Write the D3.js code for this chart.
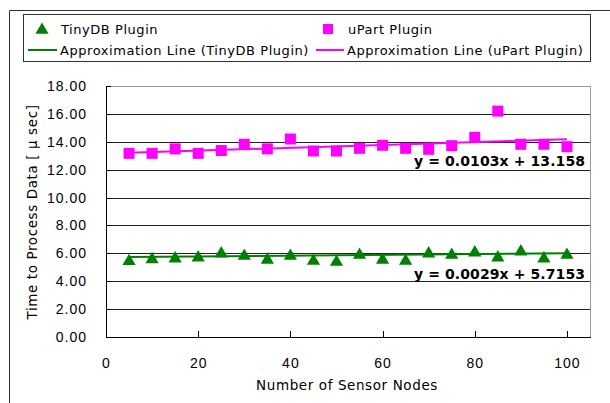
<!DOCTYPE html>
<html>
<meta charset="utf-8">
<title>Processing time</title>
<style>
  body { margin: 0; background: #fff; }
  svg { font-family: "DejaVu Sans", sans-serif; }
  .grid line { stroke: #222; stroke-width: 1; shape-rendering: crispEdges; }
  .axis text { font-size: 14px; fill: #000; letter-spacing: 1px; }
  .lg text { font-size: 13px; fill: #000; letter-spacing: 0.55px; }
  .eq { font-size: 14px; font-weight: bold; fill: #000; }
  .title { font-size: 13.5px; letter-spacing: 0.6px; }
</style>
<body>
<div id="chart"></div>
<script src="https://d3js.org/d3.v7.min.js"></script>
<script>
// data
var nodes = [5, 10, 15, 20, 25, 30, 35, 40, 45, 50, 55, 60, 65, 70, 75, 80, 85, 90, 95, 100];
var tinydb = [5.50, 5.64, 5.69, 5.76, 6.05, 5.88, 5.60, 5.88, 5.52, 5.45,
              5.95, 5.60, 5.52, 6.05, 5.95, 6.12, 5.76, 6.19, 5.69, 5.95];
var upart = [13.17, 13.17, 13.49, 13.17, 13.37, 13.82, 13.49, 14.20, 13.34, 13.34,
             13.53, 13.75, 13.53, 13.46, 13.72, 14.32, 16.20, 13.82, 13.82, 13.65];
var fitTiny = {slope: 0.0029, icpt: 5.7153, label: "y = 0.0029x + 5.7153"};
var fitUpart = {slope: 0.0103, icpt: 13.158, label: "y = 0.0103x + 13.158"};
var yTicks = [0, 2, 4, 6, 8, 10, 12, 14, 16, 18];
var xTicks = [0, 20, 40, 60, 80, 100];

var W = 610, H = 403;
var green = "#008000", pink = "#ff00ff";

var svg = d3.select("#chart").append("svg")
    .attr("width", W).attr("height", H);

// outer frame (only top and left visible)
svg.append("path")
    .attr("d", "M9.5,403V10.5H610")
    .attr("fill", "none").attr("stroke", "#333").attr("stroke-width", 1);

var x = d3.scaleLinear().domain([0, 105]).range([106, 590]);
var y = d3.scaleLinear().domain([0, 18]).range([337, 86]);

// gridlines
svg.append("g").attr("class", "grid")
  .selectAll("line").data(yTicks.slice(1)).enter().append("line")
    .attr("x1", x(0)).attr("x2", x(105))
    .attr("y1", function(d) { return Math.round(y(d)) + 0.5; })
    .attr("y2", function(d) { return Math.round(y(d)) + 0.5; })
    .style("stroke", function(d) { return d == 18 ? "#999" : "#222"; });

// right border
svg.append("line")
    .attr("x1", x(105) + 0.5).attr("x2", x(105) + 0.5)
    .attr("y1", y(18)).attr("y2", y(0))
    .attr("stroke", "#999").attr("shape-rendering", "crispEdges");

// axes
var yAxis = d3.axisLeft(y).tickValues(yTicks).tickFormat(d3.format(".2f")).tickSizeInner(-5).tickSizeOuter(0).tickPadding(19);
var xAxis = d3.axisBottom(x).tickValues(xTicks).tickFormat(d3.format("d")).tickSizeInner(-6).tickSizeOuter(0).tickPadding(20);

var gy = svg.append("g").attr("class", "axis").attr("transform", "translate(" + x(0) + ",0)").call(yAxis);
var gx = svg.append("g").attr("class", "axis").attr("transform", "translate(0," + y(0) + ")").call(xAxis);
svg.selectAll(".axis path, .axis line").attr("stroke", "#000").attr("shape-rendering", "crispEdges");
gx.selectAll("text").attr("dy", "0.35em").attr("y", 26);

// axis titles
svg.append("text").attr("class", "title")
    .attr("x", 347).attr("y", 390)
    .attr("text-anchor", "middle")
    .text("Number of Sensor Nodes");

svg.append("text").attr("class", "title")
    .attr("transform", "translate(37,212) rotate(-90)")
    .attr("text-anchor", "middle")
    .text("Time to Process Data [ μ sec]");

// trend lines
function trend(f, color) {
  svg.append("line")
      .attr("x1", x(5)).attr("y1", y(f.icpt + f.slope * 5))
      .attr("x2", x(100)).attr("y2", y(f.icpt + f.slope * 100))
      .attr("stroke", color).attr("stroke-width", 2);
}
trend(fitTiny, green);
trend(fitUpart, pink);

// markers
var tri = d3.symbol().type(d3.symbolTriangle).size(75);
svg.append("g").selectAll("path").data(nodes).enter().append("path")
    .attr("d", tri)
    .attr("transform", function(d, i) { return "translate(" + x(d) + "," + (y(tinydb[i]) + 1) + ")"; })
    .attr("fill", green);

svg.append("g").selectAll("rect").data(nodes).enter().append("rect")
    .attr("x", function(d) { return x(d) - 5.5; })
    .attr("y", function(d, i) { return y(upart[i]) - 5.5; })
    .attr("width", 11).attr("height", 11)
    .attr("fill", pink);

// equations
svg.append("text").attr("class", "eq")
    .attr("x", 414).attr("y", 166)
    .attr("textLength", 171).attr("lengthAdjust", "spacing")
    .text(fitUpart.label);
svg.append("text").attr("class", "eq")
    .attr("x", 414).attr("y", 279)
    .attr("textLength", 171).attr("lengthAdjust", "spacing")
    .text(fitTiny.label);

// legend
var lg = svg.append("g").attr("class", "lg");
lg.append("rect")
    .attr("x", 23.5).attr("y", 14.5).attr("width", 567).attr("height", 47)
    .attr("fill", "#fff").attr("stroke", "#333");

lg.append("path").attr("d", tri).attr("transform", "translate(42,30)").attr("fill", green);
lg.append("text").attr("x", 61).attr("y", 34).text("TinyDB Plugin");
lg.append("rect").attr("x", 323).attr("y", 24).attr("width", 10).attr("height", 10).attr("fill", pink);
lg.append("text").attr("x", 348).attr("y", 34).text("uPart Plugin");

lg.append("line").attr("x1", 28).attr("x2", 57).attr("y1", 50).attr("y2", 50).attr("stroke", green).attr("stroke-width", 2);
lg.append("text").attr("x", 60).attr("y", 55).text("Approximation Line (TinyDB Plugin)");
lg.append("line").attr("x1", 316).attr("x2", 344).attr("y1", 50).attr("y2", 50).attr("stroke", pink).attr("stroke-width", 2);
lg.append("text").attr("x", 347).attr("y", 55).text("Approximation Line (uPart Plugin)");
</script>
</body>
</html>
